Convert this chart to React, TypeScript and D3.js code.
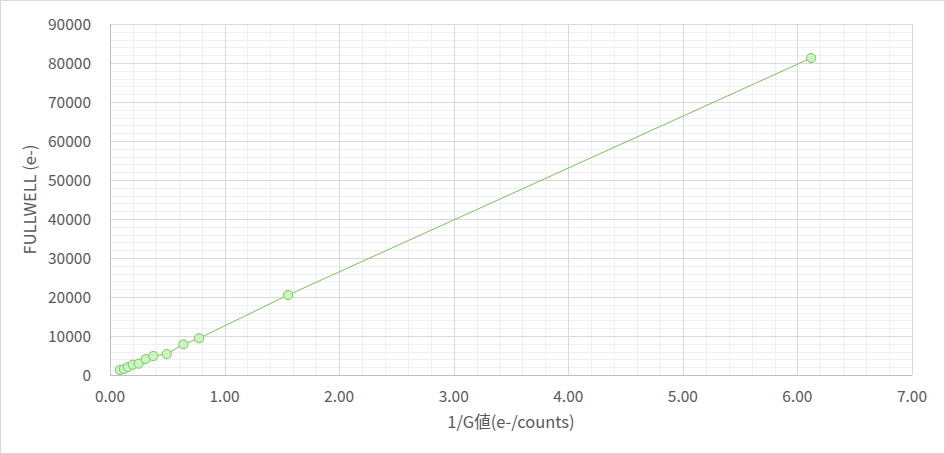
import React, { useEffect, useRef } from "react";
import * as d3 from "d3";

const xValues = [0.087, 0.122, 0.157, 0.198, 0.25, 0.312, 0.378, 0.495, 0.64, 0.777, 1.554, 6.12];
const yValues = [1280, 1540, 2050, 2640, 2900, 4100, 4870, 5380, 7870, 9410, 20500, 81280];
const xTicks = [0, 1, 2, 3, 4, 5, 6, 7];
const yTicks = [0, 10000, 20000, 30000, 40000, 50000, 60000, 70000, 80000, 90000];
const xTitle = "1/G値(e-/counts)";
const yTitle = "FULLWELL (e-)";

const W = 945;
const H = 454;
const FONT = "'Noto Sans CJK JP', 'Noto Sans', sans-serif";

export default function App() {
  const ref = useRef<SVGSVGElement>(null);
  useEffect(() => {
    document.body.style.margin = "0";
    const svg = d3.select(ref.current);
    svg.selectAll("*").remove();
    const left = 110, right = 912, top = 24, bottom = 375;
    const x = d3.scaleLinear().domain([0, 7]).range([left, right]);
    const y = d3.scaleLinear().domain([0, 90000]).range([bottom, top]);

    svg.append("rect").attr("x", 0.5).attr("y", 0.5).attr("width", W - 1).attr("height", H - 1)
      .attr("fill", "#fff").attr("stroke", "#d9d9d9");

    const g = svg.append("g");
    const xMinor = d3.range(0, 7.0001, 0.2);
    const yMinor = d3.range(0, 90001, 2000);
    g.selectAll(".xm").data(xMinor).enter().append("line")
      .attr("x1", (d) => Math.round(x(d)) + 0.5).attr("x2", (d) => Math.round(x(d)) + 0.5)
      .attr("y1", top).attr("y2", bottom).attr("stroke", "#f0f0f0");
    g.selectAll(".ym").data(yMinor).enter().append("line")
      .attr("y1", (d) => Math.round(y(d)) + 0.5).attr("y2", (d) => Math.round(y(d)) + 0.5)
      .attr("x1", left).attr("x2", right).attr("stroke", "#f0f0f0");
    g.selectAll(".xM").data(xTicks).enter().append("line")
      .attr("x1", (d) => Math.round(x(d)) + 0.5).attr("x2", (d) => Math.round(x(d)) + 0.5)
      .attr("y1", top).attr("y2", bottom).attr("stroke", "#d9d9d9");
    g.selectAll(".yM").data(yTicks).enter().append("line")
      .attr("y1", (d) => Math.round(y(d)) + 0.5).attr("y2", (d) => Math.round(y(d)) + 0.5)
      .attr("x1", left).attr("x2", right).attr("stroke", "#d9d9d9");
    g.append("line").attr("x1", left).attr("x2", right).attr("y1", Math.round(y(0)) + 0.5).attr("y2", Math.round(y(0)) + 0.5).attr("stroke", "#bfbfbf");
    g.append("line").attr("x1", Math.round(x(0)) + 0.5).attr("x2", Math.round(x(0)) + 0.5).attr("y1", top).attr("y2", bottom).attr("stroke", "#bfbfbf");

    svg.selectAll(".xl").data(xTicks).enter().append("text")
      .attr("x", (d) => x(d)).attr("y", 402).attr("text-anchor", "middle")
      .attr("font-family", FONT).attr("font-size", 15.5).attr("fill", "#595959")
      .text((d) => d3.format(".2f")(d));
    svg.selectAll(".yl").data(yTicks).enter().append("text")
      .attr("x", 91).attr("y", (d) => y(d) + 5.5).attr("text-anchor", "end")
      .attr("font-family", FONT).attr("font-size", 15.5).attr("fill", "#595959")
      .text((d) => String(d));

    svg.append("text").attr("x", (left + right) / 2).attr("y", 428).attr("text-anchor", "middle")
      .attr("font-family", FONT).attr("font-size", 16.5).attr("fill", "#595959").text(xTitle);
    svg.append("text").attr("transform", `translate(36,${(top + bottom) / 2}) rotate(-90)`)
      .attr("text-anchor", "middle")
      .attr("font-family", FONT).attr("font-size", 16.5).attr("fill", "#595959").text(yTitle);

    const pts = xValues.map((v, i) => [v, yValues[i]] as [number, number]);
    const line = d3.line<[number, number]>().x((d) => x(d[0])).y((d) => y(d[1]));
    svg.append("path").attr("d", line(pts)).attr("fill", "none").attr("stroke", "#7cc05a").attr("stroke-width", 1);
    svg.selectAll(".pt").data(pts).enter().append("circle")
      .attr("cx", (d) => x(d[0])).attr("cy", (d) => y(d[1])).attr("r", 4.6)
      .attr("fill", "#c8f5c0").attr("stroke", "#80c460").attr("stroke-width", 1);
  }, []);
  return <svg ref={ref} width={W} height={H} style={{ display: "block", margin: 0 }} />;
}
